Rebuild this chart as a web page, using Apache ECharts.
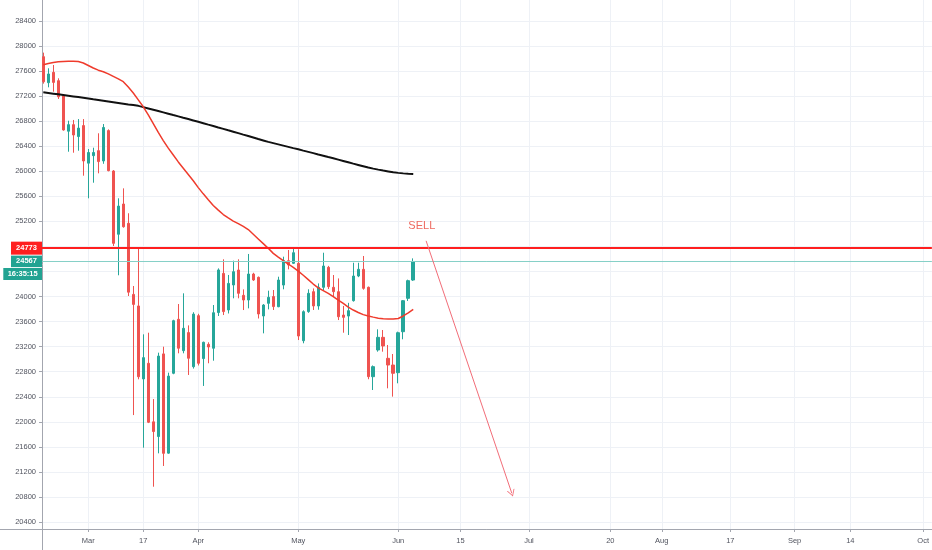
<!DOCTYPE html>
<html><head><meta charset="utf-8">
<script src="https://cdn.jsdelivr.net/npm/echarts@6/dist/echarts.min.js"></script>
<style>html,body{margin:0;padding:0;background:#fff}#c{width:932px;height:550px}</style>
</head><body><div id="c"></div>
<script>
// ---- data ----
const dates = [
 '2020-02-18','2020-02-19','2020-02-20','2020-02-21','2020-02-24','2020-02-25','2020-02-26','2020-02-27','2020-02-28',
 '2020-03-02','2020-03-03','2020-03-04','2020-03-05','2020-03-06','2020-03-09','2020-03-10','2020-03-11','2020-03-12','2020-03-13',
 '2020-03-16','2020-03-17','2020-03-18','2020-03-19','2020-03-20','2020-03-23','2020-03-24','2020-03-25','2020-03-26','2020-03-27',
 '2020-03-30','2020-03-31',
 '2020-04-01','2020-04-02','2020-04-03','2020-04-06','2020-04-07','2020-04-08','2020-04-09','2020-04-14','2020-04-15','2020-04-16',
 '2020-04-17','2020-04-20','2020-04-21','2020-04-22','2020-04-23','2020-04-24','2020-04-27','2020-04-28','2020-04-29','2020-04-30',
 '2020-05-04','2020-05-05','2020-05-06','2020-05-07','2020-05-08','2020-05-11','2020-05-12','2020-05-13','2020-05-14','2020-05-15',
 '2020-05-18','2020-05-19','2020-05-20','2020-05-21','2020-05-22','2020-05-25','2020-05-26','2020-05-27','2020-05-28','2020-05-29',
 '2020-06-01','2020-06-02','2020-06-03','2020-06-04'
];
const opens = [27830,27415,27580,27447,27207,26640,26745,26555,26730,26130,26250,26330,26165,26650,26005,24995,25478,25170,24035,23850,
 22685,22935,22000,21765,23085,21500,22775,23637,23136,23425,22880,23695,23010,23237,23175,23745,24370,23786,24185,24424,
 24020,23945,24360,24307,23690,23892,24000,23838,24184,24573,24531,24531,23295,23760,24078,23850,24148,24467,24148,24078,
 23705,23689,23934,24328,24435,24148,22721,23147,23349,23014,22907,22785,23439,23972,24264];
const closes = [27430,27554,27420,27190,26660,26745,26580,26690,26165,26300,26300,26155,26700,26010,24850,25445,25115,24070,23875,22720,
 23025,21993,21845,23050,21497,22730,23615,23175,23493,23015,23720,22935,23270,23195,23742,24425,23760,24210,24397,24052,
 23945,24360,24265,23722,23865,23988,23840,24264,24573,24504,24700,23370,23759,24052,23850,24148,24488,24158,24078,23678,
 23668,23775,24328,24435,24131,22721,22881,23349,23211,22907,22775,23423,23934,24254,24557];
const lows = [27400,27341,27271,27155,26650,26313,26297,26329,25930,25569,25818,25968,26120,26000,24807,24340,25100,24009,22108,22679,
 21587,21980,20964,21497,21295,21490,22760,23094,23094,22748,22850,22900,22573,22935,22976,23690,23705,23730,23972,23972,
 23785,23812,24250,23650,23413,23796,23786,23830,24116,24435,24520,23306,23254,23740,23786,23790,24105,24120,23998,23625,
 23423,23386,23920,24310,24110,22680,22508,23120,23120,22535,22402,22615,23318,23930,24250];
const highs = [27895,27645,27697,27485,27230,26808,26820,26834,26834,26356,26377,26607,26755,26670,26020,25569,25728,25330,24169,24775,
 23397,23423,22364,23104,23200,22785,23630,23881,24052,23540,23750,23725,23280,23270,23865,24450,24595,24345,24573,24595,
 24115,24680,24380,24320,23880,24094,24105,24317,24637,24744,24770,24755,23780,24116,24130,24210,24700,24490,24344,24290,
 23850,23900,24540,24540,24648,24160,22900,23477,23466,23227,23083,23440,23945,24270,24610];
const maSlow = [27262,27251,27240,27229,27218,27207,27196,27185,27174,27163,27151,27140,27128,27116,27104,27092,27080,27068,27057,27045,
 27025,27004,26983,26962,26941,26920,26898,26877,26855,26834,26812,26790,26768,26745,26723,26700,26678,26655,26633,26610,
 26586,26563,26540,26516,26493,26470,26450,26430,26410,26390,26370,26351,26330,26310,26290,26269,26249,26228,26208,26187,
 26166,26145,26123,26102,26081,26060,26043,26027,26012,25998,25984,25975,25967,25961,25957];
const maFast = [27700,27722,27738,27748,27755,27758,27758,27752,27730,27690,27650,27615,27590,27555,27515,27475,27431,27345,27250,27140,
 27030,26900,26760,26620,26490,26370,26260,26150,26050,25950,25850,25740,25640,25545,25455,25380,25310,25255,25205,25165,
 25120,25070,24995,24920,24845,24770,24690,24630,24573,24520,24465,24405,24340,24270,24200,24140,24095,24050,24000,23945,
 23890,23830,23785,23745,23712,23690,23672,23655,23647,23642,23640,23650,23690,23740,23797];
const yTicks = [20400,20800,21200,21600,22000,22400,22800,23200,23600,24000,24400,24800,25200,25600,26000,26400,26800,27200,27600,28000,28400];
const xTickDates = ['2020-03-02','2020-03-17','2020-04-01','2020-05-04','2020-06-01','2020-06-15','2020-07-01','2020-07-20','2020-08-01','2020-08-17','2020-09-01','2020-09-14','2020-10-01'];
const xTickTexts = ['Mar','17','Apr','May','Jun','15','Jul','20','Aug','17','Sep','14','Oct'];
const sellLevel = 24773;
const lastPrice = 24567;
const countdown = '16:35:15';
const sellText = 'SELL';
const sellTextAt = ['2020-06-06', 25130];
const arrowFrom = ['2020-06-07', 24890];
const arrowTo = ['2020-06-27', 20860];

// ---- layout helpers ----
const FUTURE_BARS_PER_DAY = 6 / 7;
const DAY = 86400000;
function dateToX(d) {
  const i = dates.indexOf(d);
  if (i >= 0) return i;
  const last = dates.length - 1;
  const diff = Math.round((Date.parse(d) - Date.parse(dates[last])) / DAY);
  return last + diff * FUTURE_BARS_PER_DAY;
}
const candleData = dates.map((d, i) => [i, opens[i], closes[i], lows[i], highs[i]]);
const slowData = dates.map((d, i) => [i, maSlow[i]]);
const fastData = dates.map((d, i) => [i, maFast[i]]);
const xTickVals = xTickDates.map(dateToX);
function xLabel(v) {
  let best = 0, bd = 1e9;
  xTickVals.forEach((t, k) => { const dd = Math.abs(t - v); if (dd < bd) { bd = dd; best = k; } });
  return xTickTexts[best];
}

const UP = '#26a69a', DOWN = '#ef5350', AXIS = '#a3a6af', GRIDC = '#eef1f6', TXT = '#50535e';
const FONT = 'Liberation Sans';
const CHEVRON = 'path://M5,0 L10,9 L8.8,9 L5,2.2 L1.2,9 L0,9 Z';

const chart = echarts.init(document.getElementById('c'), null, { renderer: 'canvas' });
chart.setOption({
  animation: false,
  backgroundColor: '#ffffff',
  grid: { left: 42, right: 0, top: 0, bottom: 21 },
  xAxis: {
    type: 'value', min: -0.26, max: 177.74,
    axisLine: { show: true, onZero: false, lineStyle: { color: AXIS } },
    axisTick: { show: true, customValues: xTickVals, length: 3, lineStyle: { color: AXIS } },
    axisLabel: { customValues: xTickVals, formatter: xLabel, color: TXT, fontSize: 7.5, margin: 8, fontFamily: FONT },
    splitLine: { show: true, lineStyle: { color: GRIDC, width: 1 } }
  },
  yAxis: {
    type: 'value', min: 20288.8, max: 28735.3, position: 'left',
    axisLine: { show: true, onZero: false, lineStyle: { color: AXIS } },
    axisTick: { show: true, customValues: yTicks, length: 3, lineStyle: { color: AXIS } },
    axisLabel: { customValues: yTicks, formatter: v => String(v), color: TXT, fontSize: 7.5, margin: 6, fontFamily: FONT },
    splitLine: { show: true, lineStyle: { color: GRIDC, width: 1 } }
  },
  series: [
    {
      type: 'candlestick', data: candleData, barWidth: 3,
      encode: { x: 0, y: [1, 2, 3, 4] },
      itemStyle: { color: UP, color0: DOWN, borderColor: UP, borderColor0: DOWN, borderWidth: 1 },
      markLine: {
        silent: true, symbol: 'none', animation: false,
        label: { show: false },
        data: [
          { yAxis: sellLevel, lineStyle: { color: '#ff1f1f', width: 2, type: 'solid' } },
          { yAxis: lastPrice, lineStyle: { color: '#86d0c7', width: 1, type: 'solid' } }
        ]
      },
      markPoint: {
        silent: true, animation: false,
        symbol: 'circle', symbolSize: 1, itemStyle: { color: 'rgba(0,0,0,0)' },
        label: { show: true, position: 'inside', formatter: sellText, color: '#ee6a60', fontSize: 11, fontFamily: FONT },
        data: [{ coord: [dateToX(sellTextAt[0]), sellTextAt[1]] }]
      },
      z: 3
    },
    {
      type: 'line', data: slowData, showSymbol: false, symbol: 'none',
      lineStyle: { color: '#111111', width: 2 }, z: 4,
      markLine: {
        silent: true, animation: false, symbol: ['none', CHEVRON], symbolSize: [8, 7],
        label: { show: false },
        itemStyle: { color: '#f26d78' },
        lineStyle: { color: '#f26d78', width: 1, type: 'solid' },
        data: [[{ coord: [dateToX(arrowFrom[0]), arrowFrom[1]] }, { coord: [dateToX(arrowTo[0]), arrowTo[1]] }]]
      }
    },
    {
      type: 'line', data: fastData, showSymbol: false, symbol: 'none',
      lineStyle: { color: '#ef3b2c', width: 1.5 }, z: 4
    }
  ]
});

const y1 = chart.convertToPixel({ yAxisIndex: 0 }, sellLevel);
const y2 = chart.convertToPixel({ yAxisIndex: 0 }, lastPrice);
function tag(x, y, w, h, fill, text) {
  return [
    { type: 'rect', z: 100, shape: { x: x, y: y - h / 2, width: w, height: h }, style: { fill: fill } },
    { type: 'text', z: 101, x: x + w / 2, y: y, style: { text: text, fill: '#fff', fontSize: 7.5, fontWeight: 'bold', fontFamily: FONT, align: 'center', verticalAlign: 'middle' } }
  ];
}
chart.setOption({
  graphic: [].concat(
    tag(11, y1, 31, 13, '#ff1f1f', String(sellLevel)),
    tag(11, y2 + 0.3, 31, 11.5, '#22a392', String(lastPrice)),
    tag(3.3, y2 + 13, 38.7, 12, '#22a392', countdown),
    [
      { type: 'line', z: 50, shape: { x1: 0, y1: 529.5, x2: 42, y2: 529.5 }, style: { stroke: AXIS, lineWidth: 1 } },
      { type: 'line', z: 50, shape: { x1: 42.5, y1: 529, x2: 42.5, y2: 550 }, style: { stroke: AXIS, lineWidth: 1 } }
    ]
  )
});
</script>
</body></html>
